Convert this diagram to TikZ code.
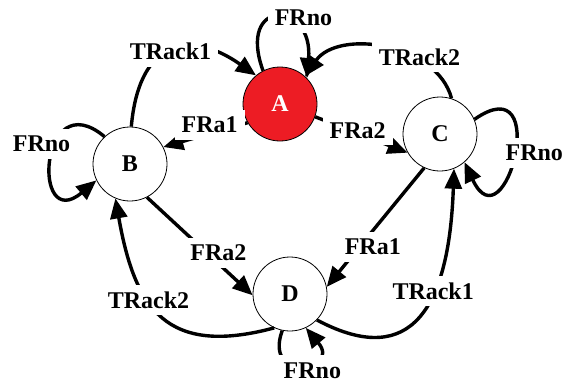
\documentclass[tikz,border=0pt]{standalone}
\usepackage{fontspec}
\setmainfont{Liberation Serif}
\usepackage{tikz}
\usetikzlibrary{arrows.meta}
\definecolor{stateRed}{RGB}{237,28,36}

\begin{document}
\begin{tikzpicture}[x=1pt, y=1pt,
    font=\bfseries\fontsize{24}{28}\selectfont,
    state/.style={circle, draw, line width=0.8pt, minimum size=74pt, inner sep=0pt},
    trans/.style={line width=3.4pt, -{Triangle[length=20pt, width=17pt]}},
    lbl/.style={fill=white, inner sep=7pt}]
    \useasboundingbox (0,0) rectangle (569,384);

    % States
    \node[state, fill=stateRed, text=white] (A) at (280,280) {A};
    \node[state] (B) at (130,220) {B};
    \node[state] (C) at (440,250) {C};
    \node[state] (D) at (290,90) {D};

    % Self loops
    \draw[trans] (A.117) to[out=110, in=85, looseness=4.5] node[lbl, xshift=26pt] (lA) {FRno} (A.44);
    \draw[trans] (B.133) to[out=140, in=220, looseness=4.9] node[lbl, pos=0.45, xshift=-11pt, yshift=7pt] (lB) {FRno} (B.206);
    \draw[trans] (C.23) to[out=35, in=295, looseness=5.6] node[lbl, xshift=20pt] (lC) {FRno} (C.311);
    \draw[trans] (D.258) to[out=250, in=310, looseness=6.1] node[lbl, xshift=12pt, yshift=-5pt] (lD) {FRno} (D.295);

    % Transitions to A
    \draw[trans] (B.88) to[out=85, in=145, looseness=1.6] node[lbl] (lBA) {TRack1} (A.130);
    \draw[trans] (C.72) to[out=105, in=55] node[lbl, pos=0.3, yshift=3pt] (lCA) {TRack2} (A.48);

    % Transitions from A
    \draw[trans] (A.210) -- node[lbl, pos=0.45, yshift=9pt] (lAB) {FRa1} (B.27);
    \draw[trans] (A.340) -- node[lbl, pos=0.46, yshift=3pt] (lAC) {FRa2} (C.210);

    % Transitions to D
    \draw[trans] (B.297) -- node[lbl, pos=0.6, xshift=8pt, yshift=3pt] (lBD) {FRa2} (D.182);
    \draw[trans] (C.245) -- node[lbl, pos=0.62, xshift=9pt, yshift=-5pt] (lCD) {FRa1} (D.11);

    % Transitions from D
    \draw[trans] (D.245) to[out=195, in=280, looseness=1.4] node[lbl, pos=0.6] (lDB) {TRack2} (B.247);
    \draw[trans] (D.316) to[out=-28, in=268, out looseness=1.2, in looseness=1.95] node[lbl, pos=0.65] (lDC) {TRack1} (C.292);
\end{tikzpicture}
\end{document}
